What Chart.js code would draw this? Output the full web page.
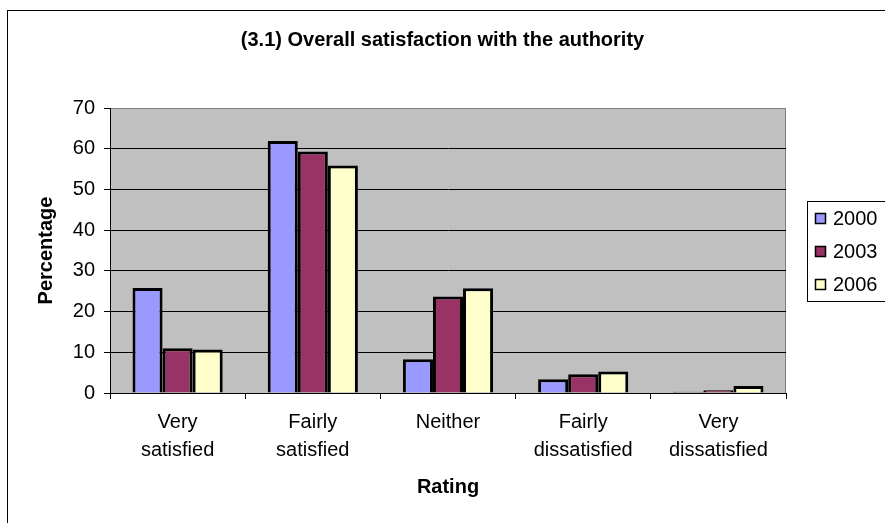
<!-- Chart.js 長條圖：整體滿意度 (3.1) -->
<!DOCTYPE html>
<html lang="en">

<head>
    <meta charset="UTF-8">
    <title>(3.1) Overall satisfaction with the authority</title>
    <script src="https://cdn.jsdelivr.net/npm/chart.js"></script>
    <style>
        body { margin: 0; background: #fff; }
        canvas { display: block; }
    </style>
</head>

<body>
    <canvas id="myChart01" width="885" height="523"></canvas>
    <script>
        // 資料
        var categories = [['Very', 'satisfied'], ['Fairly', 'satisfied'], 'Neither', ['Fairly', 'dissatisfied'], ['Very', 'dissatisfied']];
        var seriesNames = ['2000', '2003', '2006'];
        var values2000 = [25.8, 61.9, 8.3, 3.4, 0.3];
        var values2003 = [11.0, 59.3, 23.7, 4.6, 0.7];
        var values2006 = [10.7, 55.9, 25.7, 5.3, 1.7];
        var yTicks = [0, 10, 20, 30, 40, 50, 60, 70];

        var fontName = "'Liberation Sans', Arial, sans-serif";

        // 外框、灰色底
        var background = {
            id: 'background',
            beforeDraw: function (chart) {
                var ctx = chart.ctx, a = chart.chartArea;
                ctx.save();
                ctx.strokeStyle = '#000';
                ctx.lineWidth = 1;
                ctx.strokeRect(7.5, 10.5, 1200, 1200);
                ctx.fillStyle = '#C0C0C0';
                ctx.fillRect(a.left, a.top, a.right - a.left, a.bottom - a.top);
                ctx.strokeStyle = '#808080';
                ctx.beginPath();
                ctx.moveTo(a.right - 0.5, a.top);
                ctx.lineTo(a.right - 0.5, a.bottom);
                ctx.stroke();
                ctx.restore();
            }
        };

        // 圖例 (右側方框)
        var legendBox = {
            id: 'legendBox',
            afterDraw: function (chart) {
                var ctx = chart.ctx, a = chart.chartArea;
                var x = a.right + 21, y = a.top + 93;
                ctx.save();
                ctx.strokeStyle = '#000';
                ctx.lineWidth = 1;
                ctx.strokeRect(x + 0.5, y + 0.5, 200, 100);
                chart.data.datasets.forEach(function (ds, i) {
                    var cy = y + 17 + i * 33;
                    ctx.fillStyle = ds.backgroundColor;
                    ctx.fillRect(x + 8, cy - 5, 11, 11);
                    ctx.lineWidth = 1.5;
                    ctx.strokeRect(x + 8.5, cy - 4.5, 10, 10);
                    ctx.fillStyle = '#000';
                    ctx.font = '20px ' + fontName;
                    ctx.textBaseline = 'middle';
                    ctx.fillText(ds.label, x + 26, cy + 1);
                });
                ctx.restore();
            }
        };

        var ctx01 = document.getElementById('myChart01');
        var chart01 = new Chart(ctx01, {
            type: 'bar',
            data: {
                labels: categories,
                datasets: [{
                    label: seriesNames[0],
                    data: values2000,
                    backgroundColor: '#9999FF'
                }, {
                    label: seriesNames[1],
                    data: values2003,
                    backgroundColor: '#993366'
                }, {
                    label: seriesNames[2],
                    data: values2006,
                    backgroundColor: '#FFFFCC'
                }]
            },
            options: {
                responsive: false,
                animation: false,
                layout: { padding: 0 },
                datasets: {
                    bar: {
                        borderColor: '#000',
                        borderWidth: 3,
                        categoryPercentage: 0.667,
                        barPercentage: 1.0
                    }
                },
                plugins: {
                    legend: { display: false },
                    tooltip: { enabled: false },
                    title: {
                        display: true,
                        text: '(3.1) Overall satisfaction with the authority',
                        color: '#000',
                        font: { family: fontName, size: 20, weight: 'bold' },
                        padding: { top: 28, bottom: 56 }
                    }
                },
                scales: {
                    x: {
                        afterFit: function (scale) { scale.height = 130; },
                        grid: {
                            offset: true,
                            drawOnChartArea: false,
                            drawTicks: true,
                            tickLength: 6,
                            color: '#000'
                        },
                        border: { color: '#000', width: 1 },
                        ticks: {
                            color: '#000',
                            padding: 10,
                            maxRotation: 0,
                            autoSkip: false,
                            font: { family: fontName, size: 20, lineHeight: 1.38 }
                        },
                        title: {
                            display: true,
                            text: 'Rating',
                            color: '#000',
                            font: { family: fontName, size: 20, weight: 'bold' },
                            padding: { top: 0, bottom: 24 }
                        }
                    },
                    y: {
                        min: yTicks[0],
                        max: yTicks[yTicks.length - 1],
                        afterFit: function (scale) { scale.width = 110; },
                        afterBuildTicks: function (scale) {
                            scale.ticks = yTicks.map(function (v) { return { value: v }; });
                        },
                        grid: {
                            tickLength: 6,
                            color: function (c) {
                                if (c.tick && c.tick.value === 70) return '#808080';
                                return '#000';
                            },
                            tickColor: '#000'
                        },
                        border: { color: '#000', width: 1 },
                        ticks: {
                            color: '#000',
                            padding: 9,
                            font: { family: fontName, size: 20 }
                        },
                        title: {
                            display: true,
                            text: 'Percentage',
                            color: '#000',
                            font: { family: fontName, size: 20, weight: 'bold' },
                            padding: { top: 34, bottom: 0 }
                        }
                    },
                    // 右側留給圖例的空白
                    legendSpace: {
                        position: 'right',
                        min: 0,
                        max: 70,
                        afterFit: function (scale) { scale.width = 99; },
                        grid: { display: false },
                        border: { display: false },
                        ticks: { display: false }
                    }
                }
            },
            plugins: [background, legendBox]
        });
    </script>
</body>

</html>
